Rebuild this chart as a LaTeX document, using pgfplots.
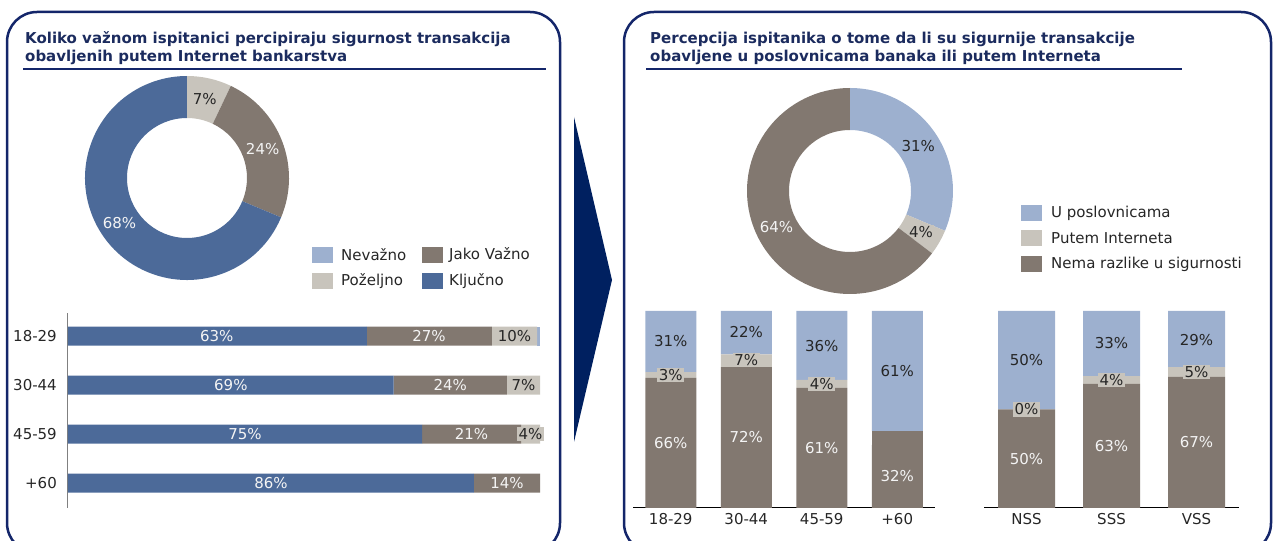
\documentclass[border=0pt]{standalone}
\usepackage{pgfplots}
\pgfplotsset{compat=1.18}
\usepackage{pgfplotstable}
\usepackage{fontspec}
\setmainfont{DejaVu Sans}
\definecolor{navy}{HTML}{14266A}
\definecolor{arrowc}{HTML}{002060}
\definecolor{titlec}{HTML}{1B2B5E}
\definecolor{kl}{HTML}{4C6A99}
\definecolor{jv}{HTML}{827870}
\definecolor{pz}{HTML}{C8C4BC}
\definecolor{nv}{HTML}{9DB0CF}
\definecolor{txt}{HTML}{262626}
\definecolor{wt}{HTML}{F4F4F4}

% left: horizontal stacked bars (Kljucno, Jako vazno, Pozeljno, Nevazno)
\pgfplotstableread{
cat kl jv pz nv
0 63.3 26.5 9.6 0.6
1 69 24 7 0
2 75 21 4 0
3 86 14 0 0
}\hbars
\pgfplotstableread{
pos cat val
31.5 0 63
76.5 0 27
34.5 1 69
81 1 24
37.5 2 75
85.5 2 21
43 3 86
93 3 14
}\hbarW
\pgfplotstableread{
pos cat val
94.6 0 10
96.5 1 7
98 2 4
}\hbarB

% right: vertical stacked bars by age
\pgfplotstableread{
cat nema extra put u
0 66 0 3 31
1 71.5 0 6.5 22
2 61 0 4 35
3 32 7 0 61
}\vage
\pgfplotstableread{
cat pos val
0 33 66
1 36 72
2 30.5 61
3 16 32
}\vageW
\pgfplotstableread{
cat pos val
0 67.5 3
1 75 7
2 63 4
}\vageB
\pgfplotstableread{
cat pos val
0 84.5 31
1 89.5 22
2 82 36
3 69.5 61
}\vageD

% right: vertical stacked bars by education
\pgfplotstableread{
cat nema put u
0 50 0 50
1 63 4 33
2 66.5 5 28.5
}\vedu
\pgfplotstableread{
cat pos val
0 25 50
1 31.5 63
2 33.5 67
}\veduW
\pgfplotstableread{
cat pos val
0 50 0
1 65 4
2 69 5
}\veduB
\pgfplotstableread{
cat pos val
0 75 50
1 83.5 33
2 85.5 29
}\veduD

\pgfplotsset{
  lbl/.style={draw=none, mark=none,
    nodes near coords={\pgfmathprintnumber{\pgfplotspointmeta}\%},
    /pgf/number format/assume math mode=true,
    nodes near coords align={center}, point meta=explicit},
}

\begin{document}
\fontsize{15}{18}\selectfont
\begin{tikzpicture}[x=1pt,y=1pt,font=\fontsize{15}{18}\selectfont]
\useasboundingbox (0,0) rectangle (1275,541);
\begin{scope}
\clip (0,0) rectangle (1275,541);
\draw[navy, line width=2.5pt, rounded corners=30pt] (7,529) rectangle (560,-12);
\draw[navy, line width=2.5pt, rounded corners=30pt] (624,529) rectangle (1271,-12);
\end{scope}
\fill[arrowc] (574,424) -- (612,261) -- (574,99) -- cycle;

% titles
\node[anchor=base west, inner sep=0, text=titlec, font=\bfseries] at (25,497) {Koliko važnom ispitanici percipiraju sigurnost transakcija};
\node[anchor=base west, inner sep=0, text=titlec, font=\bfseries] at (25,479) {obavljenih putem Internet bankarstva};
\draw[navy, line width=2pt] (23,472) -- (546,472);
\node[anchor=base west, inner sep=0, text=titlec, font=\bfseries] at (650,497) {Percepcija ispitanika o tome da li su sigurnije transakcije};
\node[anchor=base west, inner sep=0, text=titlec, font=\bfseries] at (650,479) {obavljene u poslovnicama banaka ili putem Interneta};
\draw[navy, line width=2pt] (646,472) -- (1182,472);

% left donut
\begin{scope}[shift={(187,363)}]
\gdef\curang{90}
\foreach \val/\col/\tcol/\bcol in {7/pz/txt/none, 24/jv/wt/none, 68/kl/wt/none}{
  \pgfmathsetmacro\e{\curang-\val/99*360}
  \pgfmathsetmacro\m{(\curang+\e)/2}
  \fill[\col] (\curang:102pt) arc[start angle=\curang, end angle=\e, radius=102pt] -- (\e:60pt) arc[start angle=\e, end angle=\curang, radius=60pt] -- cycle;
  \node[text=\tcol, fill=\bcol, inner sep=1pt] at (\m:81pt) {\val\%};
  \xdef\curang{\e}
}
\end{scope}

% right donut
\begin{scope}[shift={(850,350)}]
\gdef\curang{90}
\foreach \val/\col/\tcol/\bcol in {31/nv/txt/none, 4/pz/txt/pz, 64/jv/wt/none}{
  \pgfmathsetmacro\e{\curang-\val/99*360}
  \pgfmathsetmacro\m{(\curang+\e)/2}
  \fill[\col] (\curang:103pt) arc[start angle=\curang, end angle=\e, radius=103pt] -- (\e:61pt) arc[start angle=\e, end angle=\curang, radius=61pt] -- cycle;
  \node[text=\tcol, fill=\bcol, inner sep=1pt] at (\m:82pt) {\val\%};
  \xdef\curang{\e}
}
\end{scope}

% left legend
\fill[nv] (312,278) rectangle (333,294);
\node[anchor=west, inner sep=0, text=txt] at (341,286) {Nevažno};
\fill[jv] (422,278) rectangle (443,294);
\node[anchor=west, inner sep=0, text=txt] at (449,286) {Jako Važno};
\fill[pz] (312,252) rectangle (333,268);
\node[anchor=west, inner sep=0, text=txt] at (341,260) {Poželjno};
\fill[kl] (422,252) rectangle (443,268);
\node[anchor=west, inner sep=0, text=txt] at (449,260) {Ključno};

% right legend
\fill[nv] (1021,320) rectangle (1042,336);
\node[anchor=west, inner sep=0, text=txt] at (1051,328) {U poslovnicama};
\fill[pz] (1021,295) rectangle (1042,311);
\node[anchor=west, inner sep=0, text=txt] at (1051,303) {Putem Interneta};
\fill[jv] (1021,269) rectangle (1042,285);
\node[anchor=west, inner sep=0, text=txt] at (1051,277) {Nema razlike u sigurnosti};

% left horizontal bars
\begin{axis}[at={(68pt,33pt)}, anchor=south west, width=472pt, height=195pt, scale only axis,
  xbar stacked, bar width=19pt, xmin=0, xmax=100, ymin=-0.47, ymax=3.51, y dir=reverse,
  axis x line=none, axis y line*=left, y axis line style={draw=gray, line width=1pt, -},
  ytick={0,1,2,3}, yticklabels={18-29,30-44,45-59,+60}, major tick length=0pt,
  yticklabel style={text=txt, xshift=-6pt}, clip=false]
\addplot[fill=kl, draw=none] table[x=kl, y=cat] {\hbars};
\addplot[fill=jv, draw=none] table[x=jv, y=cat] {\hbars};
\addplot[fill=pz, draw=none] table[x=pz, y=cat] {\hbars};
\addplot[fill=nv, draw=none] table[x=nv, y=cat] {\hbars};
\end{axis}
\begin{axis}[at={(68pt,33pt)}, anchor=south west, width=472pt, height=195pt, scale only axis,
  xmin=0, xmax=100, ymin=-0.47, ymax=3.51, y dir=reverse, hide axis, clip=false]
\addplot[lbl, every node near coord/.append style={text=wt}] table[x=pos, y=cat, meta=val] {\hbarW};
\addplot[lbl, every node near coord/.append style={text=txt, fill=pz, inner sep=1.5pt}] table[x=pos, y=cat, meta=val] {\hbarB};
\end{axis}

% right vertical bars: age
\begin{axis}[at={(633pt,33pt)}, anchor=south west, width=302pt, height=197pt, scale only axis,
  ybar stacked, bar width=51pt, ymin=0, ymax=100, xmin=-0.5, xmax=3.5,
  axis y line=none, axis x line*=bottom, x axis line style={draw=black, line width=1pt, -},
  xtick={0,1,2,3}, xticklabels={18-29,30-44,45-59,+60}, major tick length=0pt,
  xticklabel style={text=txt}, clip=false]
\addplot[fill=jv, draw=none] table[x=cat, y=nema] {\vage};
\addplot[fill=jv, draw=none] table[x=cat, y=extra] {\vage};
\addplot[fill=pz, draw=none] table[x=cat, y=put] {\vage};
\addplot[fill=nv, draw=none] table[x=cat, y=u] {\vage};
\end{axis}
\begin{axis}[at={(633pt,33pt)}, anchor=south west, width=302pt, height=197pt, scale only axis,
  ymin=0, ymax=100, xmin=-0.5, xmax=3.5, hide axis, clip=false]
\addplot[lbl, every node near coord/.append style={text=wt}] table[x=cat, y=pos, meta=val] {\vageW};
\addplot[lbl, every node near coord/.append style={text=txt, fill=pz, inner sep=1.5pt}] table[x=cat, y=pos, meta=val] {\vageB};
\addplot[lbl, every node near coord/.append style={text=txt}] table[x=cat, y=pos, meta=val] {\vageD};
\end{axis}

% right vertical bars: education
\begin{axis}[at={(984pt,33pt)}, anchor=south west, width=255pt, height=197pt, scale only axis,
  ybar stacked, bar width=57pt, ymin=0, ymax=100, xmin=-0.5, xmax=2.5,
  axis y line=none, axis x line*=bottom, x axis line style={draw=black, line width=1pt, -},
  xtick={0,1,2}, xticklabels={NSS,SSS,VSS}, major tick length=0pt,
  xticklabel style={text=txt}, clip=false]
\addplot[fill=jv, draw=none] table[x=cat, y=nema] {\vedu};
\addplot[fill=pz, draw=none] table[x=cat, y=put] {\vedu};
\addplot[fill=nv, draw=none] table[x=cat, y=u] {\vedu};
\end{axis}
\begin{axis}[at={(984pt,33pt)}, anchor=south west, width=255pt, height=197pt, scale only axis,
  ymin=0, ymax=100, xmin=-0.5, xmax=2.5, hide axis, clip=false]
\addplot[lbl, every node near coord/.append style={text=wt}] table[x=cat, y=pos, meta=val] {\veduW};
\addplot[lbl, every node near coord/.append style={text=txt, fill=pz, inner sep=1.5pt}] table[x=cat, y=pos, meta=val] {\veduB};
\addplot[lbl, every node near coord/.append style={text=txt}] table[x=cat, y=pos, meta=val] {\veduD};
\end{axis}
\end{tikzpicture}
\end{document}
